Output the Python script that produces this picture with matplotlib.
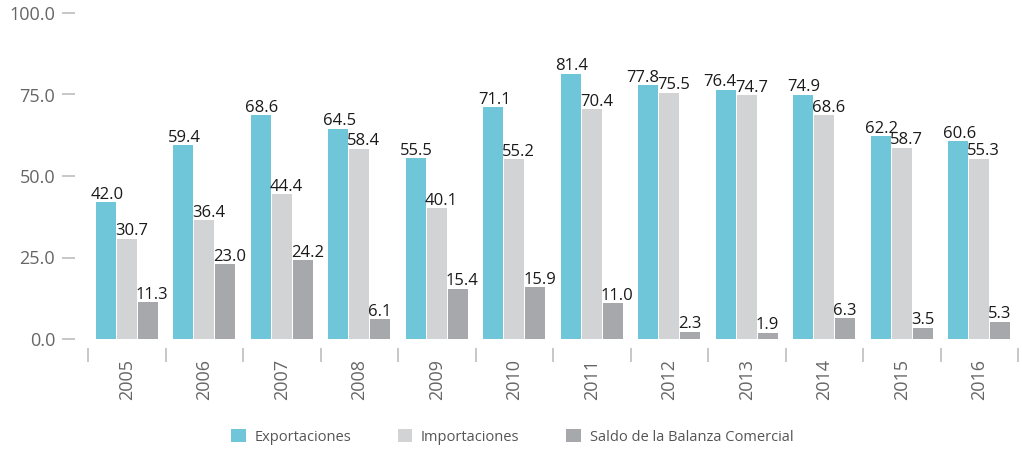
import matplotlib
matplotlib.use('Agg')
import matplotlib.pyplot as plt
import numpy as np

years = ['2005', '2006', '2007', '2008', '2009', '2010',
         '2011', '2012', '2013', '2014', '2015', '2016']
exportaciones = [42.0, 59.4, 68.6, 64.5, 55.5, 71.1, 81.4, 77.8, 76.4, 74.9, 62.2, 60.6]
importaciones = [30.7, 36.4, 44.4, 58.4, 40.1, 55.2, 70.4, 75.5, 74.7, 68.6, 58.7, 55.3]
saldo = [11.3, 23.0, 24.2, 6.1, 15.4, 15.9, 11.0, 2.3, 1.9, 6.3, 3.5, 5.3]

series_names = ['Exportaciones', 'Importaciones', 'Saldo de la Balanza Comercial']
colors = ['#6FC6D8', '#D2D3D5', '#A7A8AB']

plt.rcParams['font.family'] = ['Open Sans', 'DejaVu Sans']

PX = 72 / 100  # points per pixel at dpi 100

fig = plt.figure(figsize=(10.22, 4.49), dpi=100)
ax = fig.add_axes([88 / 1022, 1 - 339 / 449, 930 / 1022, 326 / 449])

x = np.arange(len(years))
w = 0.258
step = 0.271
all_vals = [exportaciones, importaciones, saldo]
for i, (vals, name, c) in enumerate(zip(all_vals, series_names, colors)):
    pos = x + (i - 1) * step
    ax.bar(pos, vals, width=w, color=c, label=name, zorder=2)
    for j, (p, v) in enumerate(zip(pos, vals)):
        if i == 0:
            # exportaciones: centred, pushed left when the import label is too close
            if abs(v - importaciones[j]) < 3:
                xy, dx, ha = (p + w / 2, v), 1 * PX, 'right'
            else:
                xy, dx, ha = (p, v), 1 * PX, 'center'
        else:
            xy, dx, ha = (p - w / 2, v), -2 * PX, 'left'
        ax.annotate(f'{v:.1f}', xy, xytext=(dx, 2.5), textcoords='offset points',
                    ha=ha, va='baseline', fontsize=12, color='#1a1a1a')

ax.set_xlim(-0.5, len(years) - 0.5)
ax.set_ylim(0, 100)

for s in ax.spines.values():
    s.set_visible(False)
ax.spines['left'].set_position(('outward', 13 * PX))
ax.spines['bottom'].set_position(('outward', 9 * PX))

ax.set_yticks([0, 25, 50, 75, 100])
ax.set_yticklabels(['0.0', '25.0', '50.0', '75.0', '100.0'])
ax.tick_params(axis='y', length=13 * PX, width=1.2, color='#BDBDBD', pad=5,
               labelsize=13, labelcolor='#666666')

ax.set_xticks(x)
ax.set_xticklabels(years, rotation=90)
ax.tick_params(axis='x', which='major', length=0, pad=8, labelsize=13, labelcolor='#666666')
ax.set_xticks(np.arange(-0.5, len(years)), minor=True)
ax.tick_params(axis='x', which='minor', length=14 * PX, width=1.2, color='#BDBDBD')

fig.legend(loc='center', bbox_to_anchor=(0.501, 1 - 437 / 449), ncol=3, frameon=False,
           handlelength=1.0, handleheight=1.0, handletextpad=0.6, columnspacing=3.2,
           fontsize=10.5, labelcolor='#555555')

fig.savefig('out.png', dpi=100)
